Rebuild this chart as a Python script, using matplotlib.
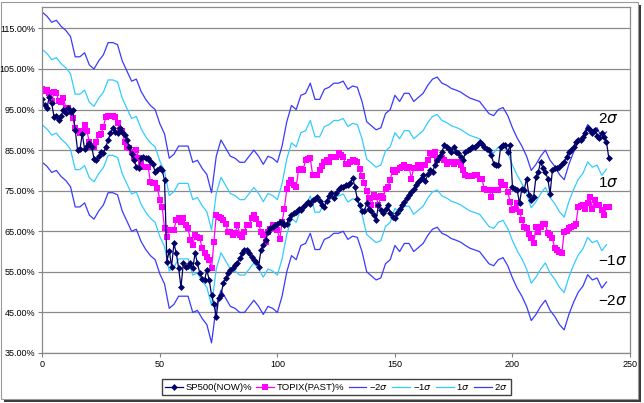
"""
    SP500 vs TOPIX con bandas sigma
"""
import matplotlib
matplotlib.use("Agg")
import matplotlib.pyplot as plt
from matplotlib.patches import Rectangle
from matplotlib.ticker import FuncFormatter


# SP500 (ahora), un valor por dia
sp500 = [97.5, 96, 95.5, 98.2, 96.5, 93.2, 93.3, 92.4, 93.5, 94.8,
         94.1, 95.3, 94.5, 94.9, 90, 85, 85.2, 89, 85.2, 86,
         86.7, 85.8, 82.9, 82.5, 83.5, 84.5, 84.2, 85.8, 87.5, 89.1,
         90.4, 89.5, 89.1, 90.4, 89.5, 88.7, 87.5, 85.8, 84, 82.5,
         80.9, 80.5, 83, 83.4, 83, 83, 82.3, 81.5, 79.7, 80.1,
         80.5, 80, 77.6, 57.5, 60.2, 56.3, 62, 59.6, 55.9, 51.2,
         57.2, 56.3, 56.4, 57.1, 55.9, 59.6, 57.1, 54.6, 53.2, 53,
         55.4, 53, 49.3, 47, 43.9, 48.5, 49.3, 52.2, 53.4, 54.6,
         55.4, 55.9, 56.7, 57.1, 58.3, 59.6, 60.4, 60.5, 59.6, 58.7,
         57.9, 57.5, 56.3, 60.3, 61.6, 62.8, 64.9, 65.7, 66.1, 66.5,
         66.9, 67.2, 67.3, 66.5, 66.9, 68.1, 69, 69.4, 69.8, 70.6,
         70.2, 71, 71.8, 72.3, 71.8, 72.6, 73, 73.5, 72.5, 71.5,
         71, 72.5, 73.6, 74.4, 73.2, 74.5, 75.3, 75.8, 76, 76.4,
         76.4, 77, 78.1, 76, 72.9, 71.5, 69.9, 69.9, 71.9, 70.5,
         69.9, 69, 67.8, 71.5, 70.2, 69.4, 70.5, 71.5, 69.4, 68.6,
         68.2, 69.5, 70.6, 71.5, 72.3, 73.1, 74, 74.7, 75.5, 76.5,
         77.2, 78, 78.8, 77.5, 79, 80.1, 79.7, 81.3, 82.5, 83.5,
         84.6, 86.2, 85.8, 85.4, 84.6, 85.8, 84.6, 84.3, 83.3, 82.5,
         84.6, 85, 85.4, 85.8, 85.8, 86.2, 87, 86.6, 85.8, 85.4,
         85, 83.8, 81.7, 81.3, 81.3, 85.8, 86.2, 86.2, 84.6, 86.2,
         76, 75.5, 75.2, 71.9, 75.5, 75.2, 78, 73.9, 72.7, 73.5,
         78.4, 79.7, 82.1, 80.5, 79.7, 78, 74.3, 80.1, 80.5, 80.5,
         80.9, 81.5, 82.1, 83.4, 84.6, 85, 85.8, 87, 87.5, 87.5,
         88.3, 89.2, 90.4, 90, 89.2, 90, 88.5, 87.9, 89.2, 88.3,
         87, 83]

# TOPIX (pasado), un valor por dia
topix = [100, 99.5, 99.8, 99.2, 97, 99.4, 99.2, 97, 96.9, 97.8,
         95.3, 95.5, 94.5, 92.8, 90.4, 89.6, 89.1, 89.6, 91.2, 89.6,
         87.1, 85.8, 85.8, 87.1, 88.7, 89, 90.8, 93.2, 93.4, 93.4,
         93.4, 93.2, 91.6, 90, 89.6, 87.1, 85.8, 85.5, 84.6, 83.4,
         85, 83, 81.7, 80.9, 80.9, 80.9, 77.2, 77, 76.8, 75.6,
         72.7, 71, 65.7, 63.7, 65.3, 65.3, 65.3, 67.8, 68.2, 67.3,
         68.2, 66.5, 65.7, 62.8, 61.6, 64.1, 63.7, 63.3, 60.8, 59.6,
         58.7, 57.9, 55.9, 62.4, 69, 68.6, 68.2, 67.8, 66.9, 64.9,
         64.9, 64.1, 64.5, 66.5, 64.1, 63.5, 64.9, 66.5, 66.5, 68.2,
         69, 68, 66.9, 64.9, 64.1, 62.4, 64.9, 65.5, 66.5, 66.1,
         65.3, 63, 67.3, 70.6, 75.5, 76.8, 77.6, 76.4, 76, 80.1,
         80.3, 80.1, 82.6, 82.8, 83, 78.9, 78.9, 78.9, 80.1, 81,
         82.1, 82.6, 82.1, 83.2, 83.4, 83.4, 84.2, 83.8, 83.4, 81.5,
         81.7, 82.1, 82.6, 82.4, 82.1, 80.3, 78.5, 77, 75, 73.2,
         71.5, 74, 73.5, 71.5, 73.6, 73.1, 75.5, 76, 77.6, 80.1,
         79.5, 80.1, 80.5, 80.9, 81.3, 80.5, 80.9, 78, 80.5, 80.5,
         81.3, 80.5, 81.3, 81.3, 82.6, 84.2, 83.8, 84.6, 82.6, 83,
         83, 82.6, 81.7, 82.1, 82.1, 81.5, 82.1, 82.1, 81.3, 80,
         78.9, 78.5, 78.5, 78.7, 78.9, 78.9, 78, 78, 75.5, 75.2,
         75.2, 73.5, 75.2, 75.2, 75.2, 77.2, 76.4, 76.4, 74.7, 72.3,
         70.2, 70.5, 71.9, 69.8, 67.8, 66.1, 65.7, 64.3, 63.3, 62,
         66.1, 64.9, 66.1, 66.9, 66.9, 64.5, 64.1, 63.3, 60.8, 60.5,
         60, 59.6, 64.9, 65, 65.7, 66.1, 66.3, 66.9, 71, 71.2,
         71.5, 70.6, 72, 73.5, 70.6, 72.7, 71.5, 71.5, 70.2, 69,
         71, 71]

# Bandas, leidas cada 2 dias
banda_x = list(range(0, 241, 2))

mas_2s = [119, 118, 116.5, 117, 115.5, 114.5, 113, 108, 108, 109,
          106, 105, 107, 108.5, 111.5, 111.5, 111, 107, 104.5, 102,
          102.5, 99.5, 97.5, 96, 95, 91.5, 89, 83, 84, 86,
          86, 86, 82, 82.5, 80.5, 79, 74.5, 83.5, 87.5, 85.5,
          83.5, 83, 82, 82, 83.5, 85, 83.5, 81.5, 83.5, 83,
          82, 86, 92, 96, 95, 98.5, 99, 101.5, 97.5, 97.5,
          100, 100.5, 101.5, 101.5, 102, 100, 100.8, 100.5, 97, 92,
          91, 90, 90.5, 94, 95, 98.5, 97, 99, 99, 97,
          98, 99, 101, 102.5, 103, 101.5, 101, 100.2, 99.8, 99.3,
          98.5, 97.8, 97.4, 97, 95.5, 94, 93.5, 95, 95.5, 93.5,
          90.5, 88, 86, 83.5, 80, 81.5, 83.5, 85, 82.5, 81,
          79, 77.7, 81.5, 84.5, 87, 88.5, 91.3, 90, 90.5, 88, 89.5]

mas_1s = [109.8, 108.8, 107.3, 107.8, 106.3, 105.3, 103.8, 98.8, 98.8, 99.8,
          96.8, 95.8, 97.8, 99.3, 102.3, 102.3, 101.8, 97.8, 95.3, 92.8,
          93.3, 90.3, 88.3, 86.8, 85.8, 82.3, 79.8, 73.8, 74.8, 76.8,
          76.8, 76.8, 72.8, 73.3, 71.3, 69.8, 65.3, 74.3, 78.3, 76.3,
          74.3, 73.8, 72.8, 72.8, 74.3, 75.8, 74.3, 72.3, 74.3, 73.8,
          72.8, 76.8, 82.8, 86.8, 85.8, 89.3, 89.8, 92.3, 88.3, 88.3,
          90.8, 91.3, 92.3, 92.3, 92.8, 90.8, 91.6, 91.3, 87.8, 82.8,
          81.8, 80.8, 81.3, 84.8, 85.8, 89.3, 87.8, 89.8, 89.8, 87.8,
          88.8, 89.8, 91.8, 93.3, 93.8, 92.3, 91.8, 91.0, 90.6, 90.1,
          89.3, 88.6, 88.2, 87.8, 86.3, 84.8, 84.3, 85.8, 86.3, 84.3,
          81.3, 78.8, 76.8, 74.3, 70.8, 72.3, 74.3, 75.8, 73.3, 71.8,
          69.8, 68.5, 72.3, 75.3, 77.8, 79.3, 82.1, 80.8, 81.3, 78.8, 80.3]

menos_1s = [91.2, 90.2, 88.7, 89.2, 87.7, 86.7, 85.2, 80.2, 80.2, 81.2,
            78.2, 77.2, 79.2, 80.7, 83.7, 83.7, 83.2, 79.2, 76.7, 74.2,
            74.7, 71.7, 69.7, 68.2, 67.2, 63.7, 61.2, 55.2, 56.2, 58.2,
            58.2, 58.2, 54.2, 54.7, 52.7, 51.2, 46.7, 55.7, 59.7, 57.7,
            55.7, 55.2, 54.2, 54.2, 55.7, 57.2, 55.7, 53.7, 55.7, 55.2,
            54.2, 58.2, 64.2, 68.2, 67.2, 70.7, 71.2, 73.7, 69.7, 69.7,
            72.2, 72.7, 73.7, 73.7, 74.2, 72.2, 73.0, 72.7, 69.2, 64.2,
            63.2, 62.2, 62.7, 66.2, 67.2, 70.7, 69.2, 71.2, 71.2, 69.2,
            70.2, 71.2, 73.2, 74.7, 75.2, 73.7, 73.2, 72.4, 72.0, 71.5,
            70.7, 70.0, 69.6, 69.2, 67.7, 66.2, 65.7, 67.2, 67.7, 65.7,
            62.7, 60.2, 58.2, 55.7, 52.2, 53.7, 55.7, 57.2, 54.7, 53.2,
            51.2, 49.9, 53.7, 56.7, 59.2, 60.7, 63.5, 62.2, 62.7, 60.2, 61.7]

menos_2s = [82, 81, 79.5, 80, 78.5, 77.5, 76, 71, 71, 72,
            69, 68, 70, 71.5, 74.5, 74.5, 74, 70, 67.5, 65,
            65.5, 62.5, 60.5, 59, 58, 54.5, 52, 46, 47, 49,
            49, 49, 45, 45.5, 43.5, 42, 37.5, 46.5, 50.5, 48.5,
            46.5, 46, 45, 45, 46.5, 48, 46.5, 44.5, 46.5, 46,
            45, 49, 55, 59, 58, 61.5, 62, 64.5, 60.5, 60.5,
            63, 63.5, 64.5, 64.5, 65, 63, 63.8, 63.5, 60, 55,
            54, 53, 53.5, 57, 58, 61.5, 60, 62, 62, 60,
            61, 62, 64, 65.5, 66, 64.5, 64, 63.2, 62.8, 62.3,
            61.5, 60.8, 60.4, 60, 58.5, 57, 56.5, 58, 58.5, 56.5,
            53.5, 51, 49, 46.5, 43, 44.5, 46.5, 48, 45.5, 44,
            42, 40.7, 44.5, 47.5, 50, 51.5, 54.3, 53, 53.5, 51, 52.5]

etiquetas = ["SP500(NOW)%", "TOPIX(PAST)%",
             "\u22122$\\sigma$", "\u22121$\\sigma$", "1$\\sigma$", "2$\\sigma$"]
textos_sigma = ["2$\\sigma$", "1$\\sigma$", "\u22121$\\sigma$", "\u22122$\\sigma$"]
posicion_sigma = [92.6, 77.0, 57.7, 47.8]

y_ticks = [35, 45, 55, 65, 75, 85, 95, 105, 115]
x_ticks = [0, 50, 100, 150, 200, 250]


def main():
    plt.rcParams["font.family"] = ["Liberation Sans", "DejaVu Sans"]

    fig = plt.figure(figsize=(6.44, 4.03), dpi=100)

    # marco del grafico con sombra
    fig.add_artist(Rectangle((4 / 644, 1 / 403), 637 / 644, 397 / 403,
                             transform=fig.transFigure, facecolor="#3a3a3a",
                             edgecolor="none", zorder=-2))
    fig.add_artist(Rectangle((1 / 644, 4 / 403), 637 / 644, 397 / 403,
                             transform=fig.transFigure, facecolor="white",
                             edgecolor="#9a9a9a", linewidth=0.8, zorder=-1))

    ax = fig.add_axes([42.3 / 644, 1 - 353 / 403, (630 - 42.3) / 644, (353 - 7.3) / 403])

    dias = list(range(len(sp500)))
    dias_topix = list(range(len(topix)))

    l_m2, = ax.plot(banda_x, menos_2s, color="#3a3aff", lw=0.9)
    l_m1, = ax.plot(banda_x, menos_1s, color="#33ccff", lw=0.9)
    l_p1, = ax.plot(banda_x, mas_1s, color="#33ccff", lw=0.9)
    l_p2, = ax.plot(banda_x, mas_2s, color="#3a3aff", lw=0.9)
    l_tp, = ax.plot(dias_topix, topix, color="#ff00ff", lw=0.9,
                    marker="s", markersize=4.2, markeredgewidth=0)
    l_sp, = ax.plot(dias, sp500, color="#000066", lw=0.9,
                    marker="D", markersize=3.5, markeredgewidth=0)

    for texto, y in zip(textos_sigma, posicion_sigma):
        ax.text(236.5, y, texto, fontsize=11, ha="left", va="center", color="black")

    ax.set_xlim(0, 250)
    ax.set_ylim(35, 120.2)
    ax.set_xticks(x_ticks)
    ax.set_yticks(y_ticks)
    ax.yaxis.set_major_formatter(FuncFormatter(lambda v, p: "%.2f%%" % v))
    ax.tick_params(labelsize=6.5, length=3, width=0.8, color="#808080", pad=2)
    ax.grid(axis="y", color="#8a8a8a", lw=0.9)
    ax.set_axisbelow(True)
    for lado in ax.spines.values():
        lado.set_color("#8a8a8a")
        lado.set_linewidth(0.9)

    fig.legend([l_sp, l_tp, l_m2, l_m1, l_p1, l_p2], etiquetas,
               loc="center", bbox_to_anchor=(336.5 / 644, 1 - 387 / 403),
               ncol=6, fontsize=6.8, frameon=True, fancybox=False,
               edgecolor="#404040", framealpha=1, handlelength=1.9,
               handletextpad=0.25, columnspacing=0.45, borderpad=0.3)

    plt.savefig("out.png", dpi=100)


main()
